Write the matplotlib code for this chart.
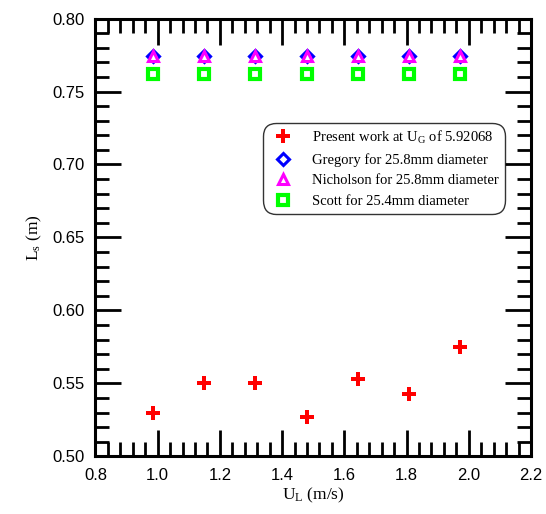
import matplotlib
matplotlib.use("Agg")
import matplotlib.pyplot as plt
from matplotlib.ticker import MultipleLocator, FormatStrFormatter

# ============================== DATA =================================
ul = [0.985, 1.149, 1.314, 1.479, 1.644, 1.809, 1.973]        # U_L (m/s)
ls_present = [0.530, 0.550, 0.550, 0.527, 0.553, 0.543, 0.575]
ls_gregory = [0.774] * 7
ls_nicholson = [0.774] * 7
ls_scott = [0.762] * 7

labels = ["Present work at U$_G$ of 5.92068",
          "Gregory for 25.8mm diameter",
          "Nicholson for 25.8mm diameter",
          "Scott for 25.4mm diameter"]

plt.rcParams['mathtext.default'] = 'regular'

fig = plt.figure(figsize=(5.46, 5.14), dpi=100)
ax = fig.add_axes([0.1749, 0.1119, 0.9725 - 0.1749, 0.964 - 0.1119])

ax.plot(ul, ls_present, 'P', color='red', markersize=10, markeredgewidth=0, label=labels[0])
ax.plot(ul, ls_gregory, 'D', color='blue', markerfacecolor='white', markersize=6,
        markeredgewidth=2.2, label=labels[1])
ax.plot(ul, ls_nicholson, '^', color='magenta', markerfacecolor='white', markersize=6.5,
        markeredgewidth=2.2, label=labels[2])
ax.plot(ul, ls_scott, 's', color='#00ff00', markerfacecolor='white', markersize=7.5,
        markeredgewidth=3, label=labels[3])

ax.set_xlim(0.8, 2.2)
ax.set_ylim(0.5, 0.8)
ax.xaxis.set_major_locator(MultipleLocator(0.2))
ax.xaxis.set_minor_locator(MultipleLocator(0.04))
ax.yaxis.set_major_locator(MultipleLocator(0.05))
ax.yaxis.set_minor_locator(MultipleLocator(0.01))
ax.xaxis.set_major_formatter(FormatStrFormatter('%.1f'))
ax.yaxis.set_major_formatter(FormatStrFormatter('%.2f'))

ax.tick_params(which='both', direction='in', top=True, right=True, width=2,
               labelsize=12, labelfontfamily='Liberation Sans')
ax.tick_params(which='major', length=19, pad=8)
ax.tick_params(which='minor', length=10)
for s in ax.spines.values():
    s.set_linewidth(2.2)

ax.set_xlabel("U$_L$ (m/s)", family='Liberation Serif', fontsize=12.5, labelpad=2)
ax.set_ylabel("L$_s$ (m)", family='Liberation Serif', fontsize=12.5, labelpad=6)

leg = ax.legend(loc='upper left', bbox_to_anchor=(0.384, 0.762), borderaxespad=0,
                fancybox=True, prop={'family': 'Liberation Serif', 'size': 10.5},
                frameon=True, handletextpad=1.0, labelspacing=0.5, borderpad=0.4,
                handlelength=2.0)
leg.get_frame().set_edgecolor('black')
leg.get_frame().set_linewidth(1.0)
leg.get_frame().set_boxstyle('round,pad=0.0,rounding_size=0.9')

fig.savefig("out.png", dpi=100)
